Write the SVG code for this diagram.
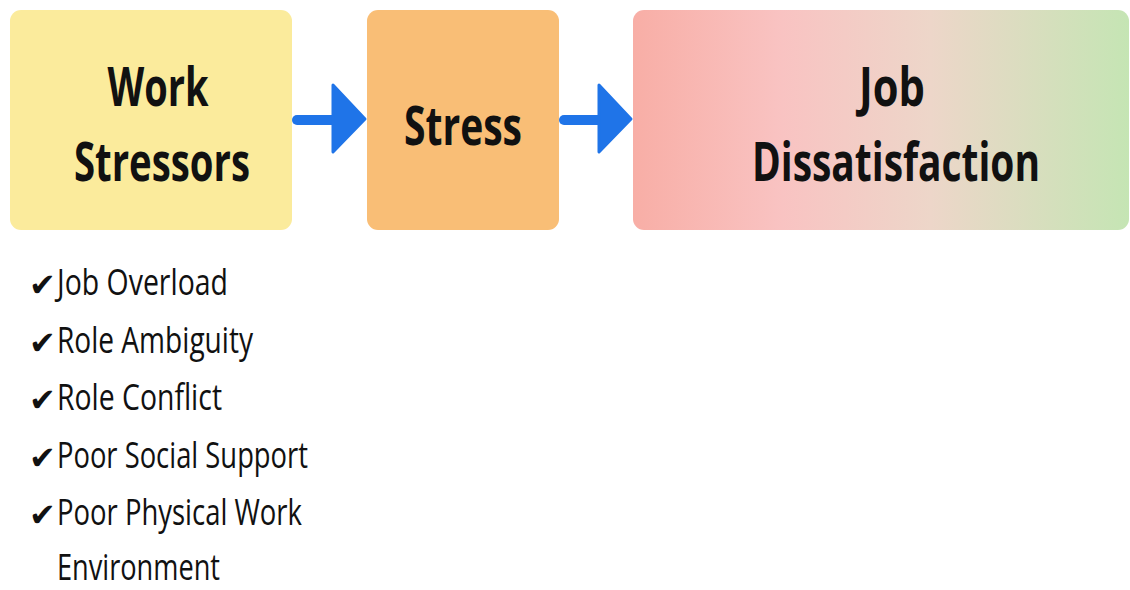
<svg xmlns="http://www.w3.org/2000/svg" width="1130" height="590" viewBox="0 0 1130 590">
  <defs>
    <linearGradient id="jobGrad" x1="0" y1="0" x2="1" y2="0">
      <stop offset="0" stop-color="#F8AEA6"/>
      <stop offset="0.3" stop-color="#F9C3C2"/>
      <stop offset="0.6" stop-color="#EDD6C9"/>
      <stop offset="1" stop-color="#C5E5B4"/>
    </linearGradient>
    <style>
      .title { font-family: "Open Sans", "Liberation Sans", sans-serif; font-weight: 700; font-size: 53px; fill: #111; }
      .item { font-family: "Open Sans", "Liberation Sans", sans-serif; font-weight: 400; font-size: 37px; fill: #111; }
      .check { font-family: "DejaVu Sans", sans-serif; font-size: 32px; fill: #111; }
      .shaft { stroke: #1F74E8; stroke-width: 10; stroke-linecap: round; fill: none; }
      .head { fill: #1F74E8; stroke: #1F74E8; stroke-width: 3; stroke-linejoin: round; }
    </style>
  </defs>
  <rect width="1130" height="590" fill="#FFFFFF"/>

  <g id="node-work-stressors">
    <rect x="10" y="10" width="282" height="220" rx="11" fill="#FBEB9C"/>
    <text class="title" x="158" y="106" text-anchor="middle" textLength="101" lengthAdjust="spacingAndGlyphs">Work</text>
    <text class="title" x="162" y="181" text-anchor="middle" textLength="176" lengthAdjust="spacingAndGlyphs">Stressors</text>
  </g>

  <g id="node-stress">
    <rect x="367" y="10" width="192" height="220" rx="11" fill="#F9BE76"/>
    <text class="title" x="463" y="145" text-anchor="middle" textLength="118" lengthAdjust="spacingAndGlyphs">Stress</text>
  </g>

  <g id="node-job-dissatisfaction">
    <rect x="633" y="10" width="496" height="220" rx="11" fill="url(#jobGrad)"/>
    <text class="title" x="892" y="106" text-anchor="middle" textLength="66" lengthAdjust="spacingAndGlyphs">Job</text>
    <text class="title" x="896" y="181" text-anchor="middle" textLength="288" lengthAdjust="spacingAndGlyphs">Dissatisfaction</text>
  </g>

  <g id="connectors">
    <line class="shaft" x1="297" y1="120" x2="336" y2="120"/>
    <polygon class="head" points="333,85 365,119 333,152"/>
    <line class="shaft" x1="564" y1="120" x2="602" y2="120"/>
    <polygon class="head" points="599,85 631,119 599,152"/>
  </g>

  <g id="stressor-list">
    <text class="check" x="29" y="296">✔</text>
    <text class="item" x="57" y="295" textLength="171" lengthAdjust="spacingAndGlyphs">Job Overload</text>
    <text class="check" x="29" y="354">✔</text>
    <text class="item" x="57" y="353" textLength="196" lengthAdjust="spacingAndGlyphs">Role Ambiguity</text>
    <text class="check" x="29" y="411">✔</text>
    <text class="item" x="57" y="410" textLength="165" lengthAdjust="spacingAndGlyphs">Role Conflict</text>
    <text class="check" x="29" y="469">✔</text>
    <text class="item" x="57" y="468" textLength="251" lengthAdjust="spacingAndGlyphs">Poor Social Support</text>
    <text class="check" x="29" y="526">✔</text>
    <text class="item" x="57" y="525" textLength="245" lengthAdjust="spacingAndGlyphs">Poor Physical Work</text>
    <text class="item" x="57" y="580" style="font-size:36px" textLength="163" lengthAdjust="spacingAndGlyphs">Environment</text>
  </g>
</svg>
